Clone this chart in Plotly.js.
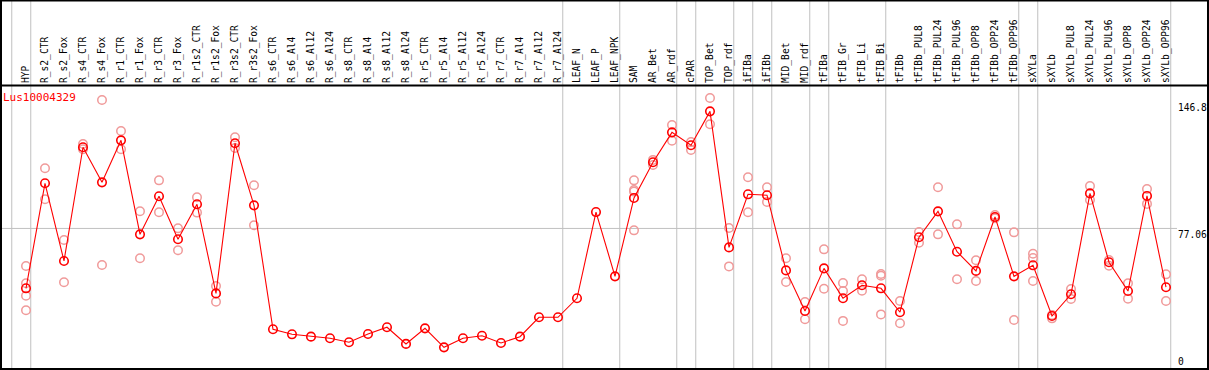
<!DOCTYPE html>
<html>
<head>
<meta charset="utf-8">
<script src="https://cdn.plot.ly/plotly-3.0.1.min.js"></script>
<style>html,body{margin:0;padding:0;background:#fff;}#chart{width:1209px;height:370px;}</style>
</head>
<body>
<div id="chart"></div>
<script>
const chartTitle = "Lus10004329";

const categories = ["HYP","R_s2_CTR","R_s2_Fox","R_s4_CTR","R_s4_Fox","R_r1_CTR","R_r1_Fox","R_r3_CTR","R_r3_Fox","R_r1s2_CTR","R_r1s2_Fox","R_r3s2_CTR","R_r3s2_Fox","R_s6_CTR","R_s6_Al4","R_s6_Al12","R_s6_Al24","R_s8_CTR","R_s8_Al4","R_s8_Al12","R_s8_Al24","R_r5_CTR","R_r5_Al4","R_r5_Al12","R_r5_Al24","R_r7_CTR","R_r7_Al4","R_r7_Al12","R_r7_Al24","LEAF_N","LEAF_P","LEAF_NPK","SAM","AR_Bet","AR_rdf","cPAR","TOP_Bet","TOP_rdf","iFIBa","iFIBb","MID_Bet","MID_rdf","tFIBa","tFIB_Gr","tFIB_Li","tFIB_Bi","tFIBb","tFIBb_PUL8","tFIBb_PUL24","tFIBb_PUL96","tFIBb_OPP8","tFIBb_OPP24","tFIBb_OPP96","sXYLa","sXYLb","sXYLb_PUL8","sXYLb_PUL24","sXYLb_PUL96","sXYLb_OPP8","sXYLb_OPP24","sXYLb_OPP96"];

const meanValues = [44.0,102.0,59.1,121.9,102.5,125.7,73.8,94.8,71.1,90.4,41.2,124.1,89.8,21.4,18.6,17.3,16.4,14.2,18.8,22.5,13.3,21.9,11.4,16.4,17.8,13.8,17.3,28.0,28.0,38.5,86.1,50.6,93.9,113.6,130.1,123.0,141.7,66.6,95.9,95.4,53.9,31.5,55.0,38.5,45.7,44.0,30.8,72.2,86.5,64.2,53.6,83.4,50.6,56.7,28.7,40.7,96.4,58.4,42.5,95.0,44.6];

const replicateValues = [
  [56.3,46.8,39.9,31.9],[110.3,93.2],[70.7,47.3],[123.7,120.8],[148.0,56.9],[130.9,120.8],[86.5,60.6],[103.6,86.0],[77.1,65.0],[94.3,85.8],[45.3,36.6],[127.4,121.5],[100.9,78.8],
  [],[],[],[],[],[],[],[],[],[],[],[],[],[],[],[],
  [],[],[],
  [103.6,98.3,97.4,76.0],[114.9,112.1],[134.2,125.5],[124.8,120.4],[149.1,134.6],[77.3,56.1],[105.3,86.0],[99.8,91.7],[60.6,47.5],[36.4,26.9],[65.5,43.8],[46.9,42.5,26.0],[49.0,42.7],[51.9,51.0,29.6],[37.0,24.7],
  [75.1,69.2],[99.8,73.8],[79.3,49.0],[59.5,48.0],[84.5,82.7],[74.9,26.5],
  [63.1,60.7,48.0],[29.2,27.4],[43.6,38.1],[100.5,92.8],[59.6,56.5],[46.8,38.3],[98.8,90.6],[51.7,37.0]
];

const yTickValues = [146.8, 77.06];
const yTickText = ["146.8", "77.06"];
const yZeroTick = [0];
const gridValues = [77.06];

// group separators drawn after these categories ("" = before the first one)
const separatorAfter = ["", "HYP","R_r7_Al24","LEAF_NPK","AR_rdf","cPAR","TOP_rdf","iFIBa","iFIBb","MID_rdf","tFIBa","tFIB_Bi","tFIBb_OPP96","sXYLa","sXYLb_OPP96"];

const idx = categories.map((c, i) => i);
const repX = [], repY = [];
replicateValues.forEach((vals, i) => vals.forEach(v => { repX.push(i); repY.push(v); }));

const mono = "DejaVu Sans Mono, monospace";
const W = 1209, H = 370, L = 2, R = 2, T = 86, B = 2;
const plotH = H - T - B;

const shapes = [];
separatorAfter.forEach(name => {
  const i = name === "" ? -1 : categories.indexOf(name);
  shapes.push({type: "line", layer: "below", xref: "x", yref: "paper",
    x0: i + 0.25, x1: i + 0.25, y0: 0, y1: (H - B) / plotH,
    line: {color: "#c0c0c0", width: 1}});
});
gridValues.forEach(v => {
  shapes.push({type: "line", layer: "below", xref: "paper", yref: "y",
    x0: 0, x1: 0.9751, y0: v, y1: v, line: {color: "#c0c0c0", width: 1}});
});
// frame
shapes.push({type: "rect", xref: "paper", yref: "paper",
  x0: -1 / (W - L - R), x1: 1 + 1 / (W - L - R), y0: -1 / plotH, y1: (H - B - 0.5) / plotH,
  line: {color: "#000", width: 2}, fillcolor: "rgba(0,0,0,0)"});
shapes.push({type: "line", xref: "paper", yref: "paper",
  x0: 0, x1: 1, y0: 1 + 0.5 / plotH, y1: 1 + 0.5 / plotH, line: {color: "#000", width: 2}});

const traces = [
  {x: repX, y: repY, type: "scatter", mode: "markers", cliponaxis: false,
   marker: {symbol: "circle-open", size: 8.5, color: "#f09a9a", line: {width: 1.5, color: "#f09a9a"}},
   hoverinfo: "skip"},
  {x: idx, y: meanValues, type: "scatter", mode: "lines+markers", cliponaxis: false,
   line: {color: "#ff0000", width: 1.1},
   marker: {symbol: "circle-open", size: 8.5, color: "#ff0000", line: {width: 1.6, color: "#ff0000"}}},
  {x: [0], y: [0], yaxis: "y2", type: "scatter", mode: "markers", marker: {opacity: 0}, hoverinfo: "skip"}
];

const yRange = [0, 155.7];

const layout = {
  width: W, height: H,
  margin: {l: L, r: R, t: T, b: B, pad: 0},
  paper_bgcolor: "#fff", plot_bgcolor: "#fff",
  showlegend: false,
  hovermode: false,
  title: {text: chartTitle, x: 3 / W, xanchor: "left", xref: "container",
          y: 1 - 97 / H, yanchor: "middle", yref: "container",
          font: {family: mono, size: 11, color: "#ff0000"}},
  xaxis: {domain: [0, 0.9751], range: [-1.2632, 60.579], side: "top",
          tickmode: "array", tickvals: idx, ticktext: categories, tickangle: -90,
          ticks: "", showgrid: false, zeroline: false, showline: false,
          ticklabelshift: 1.5, ticklabelstandoff: 2,
          tickfont: {family: mono, size: 9.6, color: "#000"}},
  yaxis: {range: yRange, side: "right", anchor: "x", tickmode: "array",
          tickvals: yTickValues, ticktext: yTickText, ticks: "",
          ticklabelposition: "outside bottom", ticklabelshift: -1,
          showgrid: false, zeroline: false, showline: false,
          tickfont: {family: mono, size: 9.6, color: "#000"}},
  yaxis2: {range: yRange, side: "right", anchor: "x", overlaying: "y", tickmode: "array",
          tickvals: yZeroTick, ticktext: ["0"], ticks: "",
          ticklabelposition: "outside top",
          showgrid: false, zeroline: false, showline: false,
          tickfont: {family: mono, size: 9.6, color: "#000"}},
  shapes: shapes
};

Plotly.newPlot("chart", traces, layout, {staticPlot: true, displayModeBar: false});
</script>
</body>
</html>
